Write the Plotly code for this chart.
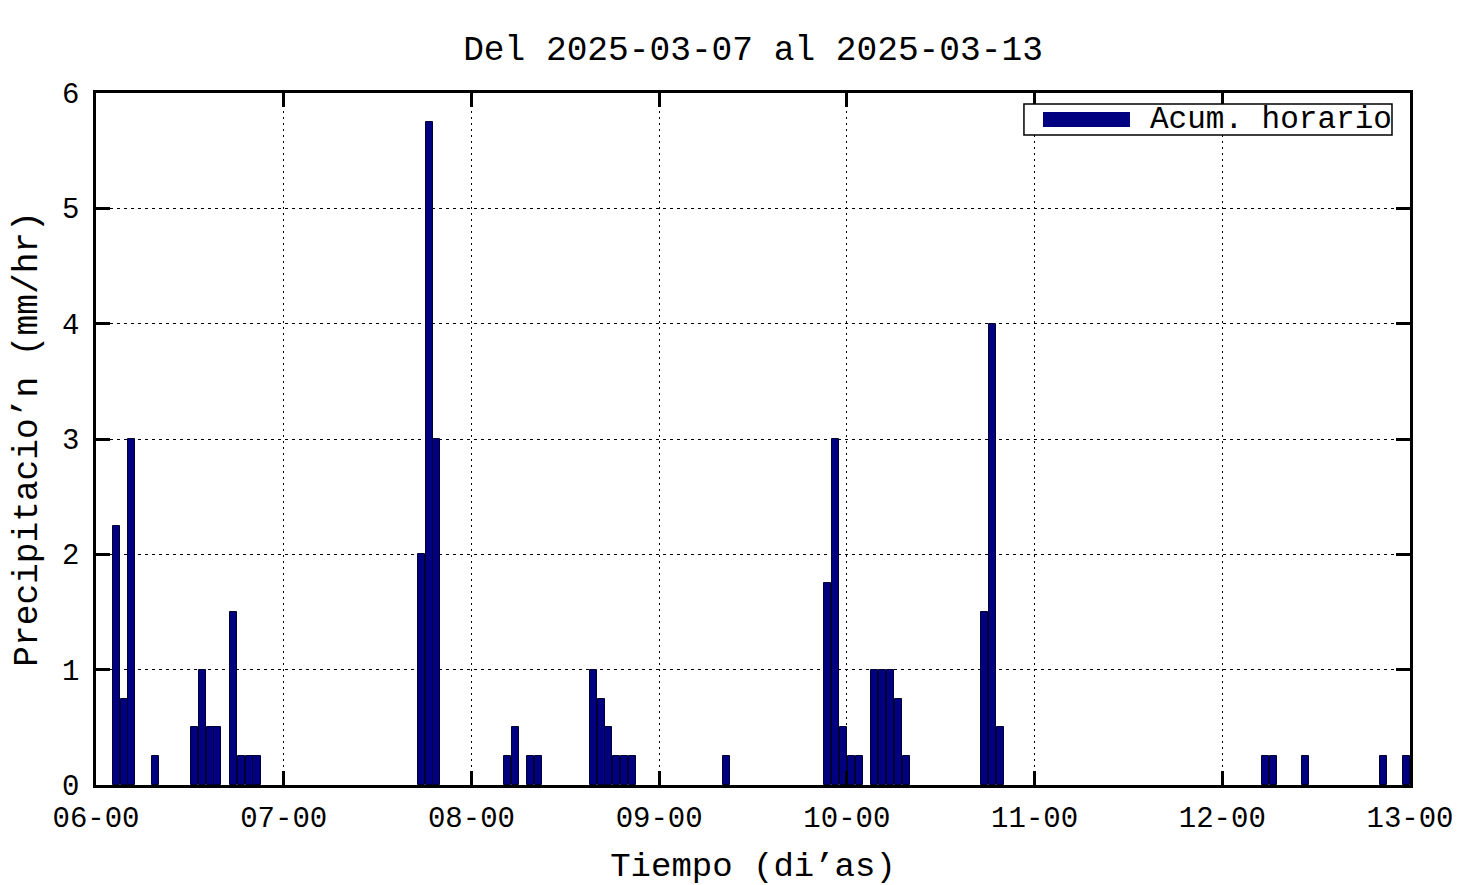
import pandas as pd
import plotly.graph_objects as go

# Hours elapsed since 2025-03-06 00:00 for each hourly accumulation bar
hours = [2, 3, 4, 7, 12, 13, 14, 15, 17, 18, 19, 20,
         41, 42, 43, 52, 53, 55, 56, 63, 64, 65, 66, 67, 68,
         80, 93, 94, 95, 96, 97, 99, 100, 101, 102, 103,
         113, 114, 115, 149, 150, 154, 164, 167]
minute_of_hour = 35
values = [2.25, 0.75, 3, 0.25, 0.5, 1, 0.5, 0.5, 1.5, 0.25, 0.25, 0.25,
          2, 5.75, 3, 0.25, 0.5, 0.25, 0.25, 1, 0.75, 0.5, 0.25, 0.25, 0.25,
          0.25, 1.75, 3, 0.5, 0.25, 0.25, 1, 1, 1, 0.75, 0.25,
          1.5, 4, 0.5, 0.25, 0.25, 0.25, 0.25, 0.25]

start = pd.Timestamp("2025-03-06 00:00")
end = pd.Timestamp("2025-03-13 00:00")
times = [start + pd.Timedelta(hours=h, minutes=minute_of_hour) for h in hours]

title_text = "Del 2025-03-07 al 2025-03-13"
xlabel = "Tiempo (di’as)"
ylabel = "Precipitacio’n (mm/hr)"
series_name = "Acum. horario"

FONT = "Liberation Mono"
NAVY = "#000080"

# the page adds an 8px body margin, so margins are offset accordingly
L, T, PW, PH = 88, 85, 1314, 692
W, H = 1476, 885

fig = go.Figure()
fig.add_trace(go.Bar(
    x=times, y=values, width=3600000 * 0.9, name=series_name,
    marker=dict(color=NAVY, line=dict(color="#000030", width=1)),
    showlegend=False,
))

# gnuplot-style key box drawn in paper coordinates
fig.add_shape(type="rect", xref="paper", yref="paper",
              x0=0.7062, x1=0.9863, y0=0.9393, y1=0.9841,
              line=dict(color="black", width=1.5), fillcolor="white", layer="above")
fig.add_shape(type="rect", xref="paper", yref="paper",
              x0=0.7207, x1=0.7869, y0=0.9509, y1=0.9725,
              line=dict(color=NAVY, width=0), fillcolor=NAVY, layer="above")
fig.add_annotation(text=series_name, xref="paper", yref="paper",
                   x=0.8006, y=0.961, xanchor="left", yanchor="middle",
                   showarrow=False, font=dict(family=FONT, size=31, color="black"))

fig.update_layout(
    width=W, height=H,
    margin=dict(l=L, r=W - L - PW, t=T, b=H - T - PH, autoexpand=False),
    paper_bgcolor="white", plot_bgcolor="white",
    font=dict(family=FONT, color="black", size=29),
    title=dict(text=title_text, x=(L + PW / 2) / W, xanchor="center",
               xref="container", y=1 - 40 / H, yanchor="middle", automargin=False,
               font=dict(family=FONT, size=34.5, color="black")),
    showlegend=False,
    bargap=0,
)
fig.update_xaxes(
    type="date", range=[start, end], dtick=86400000, tick0=start,
    tickformat="%d-%H", automargin=False,
    showline=True, linecolor="black", linewidth=2.5, mirror="allticks",
    ticks="inside", ticklen=14, tickwidth=2.5, tickcolor="black",
    showgrid=True, gridcolor="black", gridwidth=1, griddash="2px,4px",
    zeroline=False, ticklabelstandoff=4,
    tickfont=dict(family=FONT, size=29),
    title=dict(text=xlabel, font=dict(family=FONT, size=34), standoff=18),
)
fig.update_yaxes(
    range=[0, 6], dtick=1, tick0=0, automargin=False,
    showline=True, linecolor="black", linewidth=2.5, mirror="allticks",
    ticks="inside", ticklen=14, tickwidth=2.5, tickcolor="black",
    showgrid=True, gridcolor="black", gridwidth=1, griddash="3px,4px",
    zeroline=False, ticklabelstandoff=8,
    tickfont=dict(family=FONT, size=29),
    title=dict(text=ylabel, font=dict(family=FONT, size=34.5), standoff=15),
)

fig.write_html("out.html")
